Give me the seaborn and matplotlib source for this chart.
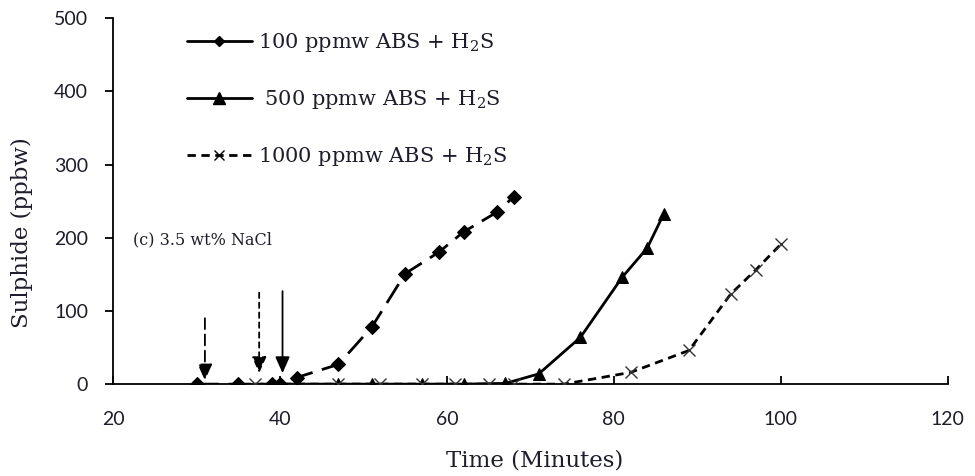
import matplotlib
matplotlib.use("Agg")
import matplotlib.pyplot as plt
import seaborn as sns
import pandas as pd
from matplotlib.lines import Line2D

# ---- data ----
t_100 = [30, 35, 39, 40, 42, 47, 51, 55, 59, 62, 66, 68]
s_100 = [0, 0, 0, 0, 9, 27, 78, 151, 180, 208, 235, 256]

t_500 = [40, 47, 51, 57, 62, 67, 71, 76, 81, 84, 86]
s_500 = [0, 0, 0, 0, 0, 1, 14, 64, 146, 186, 233]

t_1000 = [37, 47, 52, 57, 61, 65, 68, 74, 82, 89, 94, 97, 100]
s_1000 = [0, 0, 0, 0, 0, 0, 0, 0, 16, 46, 123, 156, 191]

labels = ["100 ppmw ABS + H$_\\mathrm{2}$S",
          " 500 ppmw ABS + H$_\\mathrm{2}$S",
          "1000 ppmw ABS + H$_\\mathrm{2}$S"]

arrow_x = [31, 37.5, 40.3]
arrow_top = [90, 125, 127]
arrow_tip = [5, 15, 15]
arrow_styles = [(0, (6, 3)), (0, (3, 2.5)), "solid"]

annotation = "(c) 3.5 wt% NaCl"
x_ticks = [20, 40, 60, 80, 100, 120]
y_ticks = [0, 100, 200, 300, 400, 500]

sns.set_style("white")
plt.rcParams["mathtext.fontset"] = "custom"
plt.rcParams["mathtext.rm"] = "DejaVu Serif"
plt.rcParams["mathtext.it"] = "DejaVu Serif:italic"

serif = "DejaVu Serif"
tick_font = "Lato"
txt_color = "#1d1d2b"

df1 = pd.DataFrame({"t": t_100, "s": s_100})
df2 = pd.DataFrame({"t": t_500, "s": s_500})
df3 = pd.DataFrame({"t": t_1000, "s": s_1000})

fig = plt.figure(figsize=(9.75, 4.76), dpi=100)
ax = fig.add_axes([0.116, 0.193, 0.856, 0.769])

sns.lineplot(data=df1, x="t", y="s", ax=ax, color="black", lw=2.0,
             marker="D", markersize=7, markeredgecolor="black",
             linestyle=(0, (8, 3.5)), zorder=3)
sns.lineplot(data=df2, x="t", y="s", ax=ax, color="black", lw=2.0,
             marker="^", markersize=8.5, markeredgecolor="black", zorder=3)
sns.lineplot(data=df3, x="t", y="s", ax=ax, color="black", lw=2.0,
             linestyle=(0, (3, 2)), marker="x", markersize=8.5,
             markeredgewidth=1.0, markeredgecolor="#333333", zorder=3)

for xa, top, tip, ls in zip(arrow_x, arrow_top, arrow_tip, arrow_styles):
    ax.annotate("", xy=(xa, tip), xytext=(xa, top),
                arrowprops=dict(arrowstyle="-|>,head_length=0.45,head_width=0.2",
                                color="black", lw=1.3,
                                linestyle=ls, mutation_scale=22,
                                shrinkA=0, shrinkB=0))

ax.text(22.4, 197, annotation, fontsize=11.5, family=serif, color=txt_color,
        va="center", ha="left")

ax.set_xlim(20, 120)
ax.set_ylim(0, 500)
ax.set_xticks(x_ticks)
ax.set_yticks(y_ticks)
ax.set_xticklabels([str(v) for v in x_ticks], family=tick_font,
                   fontsize=14, color=txt_color)
ax.set_yticklabels([str(v) for v in y_ticks], family=tick_font,
                   fontsize=14, color=txt_color)
ax.tick_params(axis="x", direction="in", length=6, width=1.3, pad=19,
               colors="black", labelcolor=txt_color)
ax.tick_params(axis="y", direction="out", length=6, width=1.3, pad=12,
               colors="black", labelcolor=txt_color)
ax.tick_params(left=True, bottom=True)

for side in ["top", "right"]:
    ax.spines[side].set_visible(False)
for side in ["left", "bottom"]:
    ax.spines[side].set_color("black")
    ax.spines[side].set_linewidth(1.3)

ax.set_xlabel("Time (Minutes)", family=serif, fontsize=16.5, color=txt_color)
ax.set_ylabel("Sulphide (ppbw)", family=serif, fontsize=16.5, color=txt_color)
ax.xaxis.set_label_coords(0.505, -0.208)
ax.yaxis.set_label_coords(-0.109, 0.415)
ax.xaxis.label.set_verticalalignment("center")
ax.yaxis.label.set_verticalalignment("center")

handles = [
    Line2D([], [], color="black", lw=2, marker="D", markersize=5),
    Line2D([], [], color="black", lw=2, marker="^", markersize=8),
    Line2D([], [], color="black", lw=2, linestyle=(0, (3, 2)), marker="x",
           markersize=7, markeredgewidth=1.0),
]
leg = ax.legend(handles, labels, loc="upper left",
                bbox_to_anchor=(0.066, 1.015), frameon=False,
                prop={"family": serif, "size": 15}, labelspacing=1.62,
                handlelength=3.1, handletextpad=0.3)
for t in leg.get_texts():
    t.set_color(txt_color)

fig.savefig("out.png", dpi=100)
